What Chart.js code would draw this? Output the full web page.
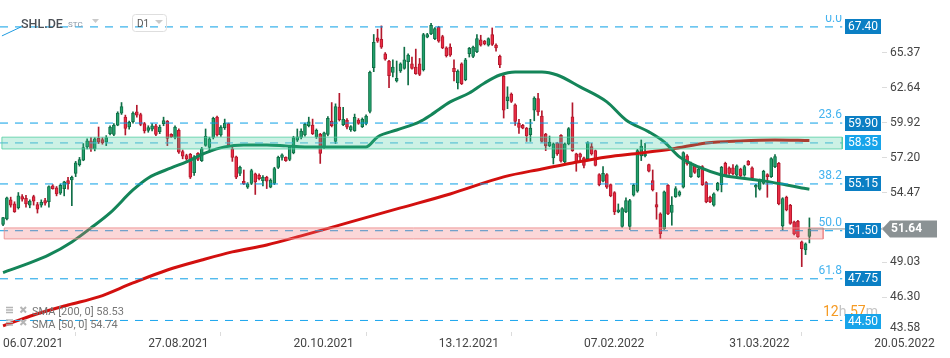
<!DOCTYPE html>
<html>
<head>
<meta charset="utf-8">
<title>SHL.DE D1</title>
<script src="https://cdn.jsdelivr.net/npm/chart.js@4.4.1/dist/chart.umd.min.js"></script>
<style>
html,body{margin:0;padding:0;background:#ffffff;overflow:hidden;}
#box{position:relative;width:950px;height:358px;}
canvas{display:block;}
</style>
</head>
<body>
<div id="box"><canvas id="chart" width="950" height="358"></canvas></div>
<script>
// ---------------- data ----------------
const opens = [
52.00,52.42,53.91,53.60,53.29,54.17,54.02,53.50,54.17,53.55,
53.50,53.86,53.76,55.00,54.84,54.43,54.79,55.41,55.46,55.98,
56.65,57.01,58.04,58.51,57.89,58.71,58.61,58.40,59.07,59.02,
59.74,60.67,60.36,59.59,60.00,60.78,60.57,59.85,59.33,59.43,
59.69,59.23,59.85,60.05,59.02,58.77,59.33,57.68,57.37,57.47,
56.03,57.53,56.96,58.15,57.99,58.77,60.36,58.97,59.54,59.85,
57.89,57.27,55.98,55.36,54.90,55.20,55.93,55.82,55.41,55.67,
54.90,55.20,56.44,57.22,57.22,57.06,57.58,58.56,58.77,58.97,
59.69,59.75,58.82,59.02,57.99,59.02,60.06,58.46,61.14,59.77,
60.13,59.36,59.31,60.13,59.62,59.88,60.81,64.22,66.55,66.44,
65.31,64.74,63.86,63.18,63.96,64.17,64.68,64.53,64.27,64.53,
64.06,66.60,66.86,66.49,67.37,66.65,65.77,65.82,64.17,63.03,
64.53,63.29,65.31,65.10,65.46,66.39,66.29,65.98,66.81,65.98,
65.10,63.55,61.64,62.16,61.33,59.87,59.72,59.51,58.99,60.91,
61.80,60.45,59.04,58.11,57.18,58.32,58.94,56.86,58.27,60.39,
57.49,57.49,57.18,57.12,58.06,57.75,55.88,55.36,55.88,55.10,
54.48,52.97,51.83,52.97,51.83,54.27,54.58,57.33,57.33,56.66,
55.41,53.54,52.81,51.67,55.05,52.92,54.16,54.27,54.89,57.34,
55.72,56.56,55.72,56.50,55.26,54.11,53.49,54.68,55.10,56.76,
56.40,56.40,55.83,56.30,55.83,56.92,56.40,54.89,54.74,55.20,
55.88,55.72,56.50,56.76,51.88,54.11,53.49,52.19,52.24,50.63,
50.00,51.05];
const highs = [
52.55,54.12,54.12,53.76,54.48,54.33,54.27,53.91,54.27,53.71,
53.91,54.02,55.00,55.10,54.95,55.15,55.36,55.67,55.77,56.91,
57.22,58.30,58.66,58.76,58.76,59.59,58.76,58.92,59.69,59.85,
60.78,61.50,60.52,60.05,60.78,61.29,60.67,59.95,59.69,59.85,
59.80,59.74,60.36,60.10,59.07,59.69,59.44,57.80,57.47,57.53,
57.37,57.60,58.00,59.44,58.80,60.36,60.45,59.70,60.21,59.90,
58.00,57.32,56.55,56.24,55.25,56.30,56.00,55.93,55.80,55.75,
55.55,56.45,57.32,57.50,57.27,58.10,58.87,59.44,59.44,59.90,
60.36,60.21,59.44,59.10,59.20,60.40,61.50,61.40,62.22,61.12,
60.25,59.70,60.60,60.25,60.30,60.55,63.95,66.81,67.22,67.48,
65.40,64.80,64.84,64.74,64.60,65.82,65.30,65.05,65.67,64.94,
66.90,66.90,67.68,67.35,67.45,66.75,65.85,66.08,64.84,64.05,
64.60,64.95,65.80,65.90,66.81,66.75,66.35,66.55,67.32,66.08,
65.20,63.65,62.73,62.25,61.40,60.19,59.80,59.56,60.19,61.95,
62.21,60.86,59.10,58.89,58.35,58.40,59.00,58.35,59.55,61.48,
57.55,57.55,57.25,58.45,58.32,57.80,55.95,56.50,55.95,55.15,
54.55,53.59,53.30,54.06,53.95,55.15,57.85,58.58,58.32,56.70,
56.24,54.48,52.90,54.60,55.10,54.16,54.94,54.61,57.66,57.45,
56.85,56.65,56.40,56.58,55.33,54.20,54.45,55.28,56.52,56.85,
56.48,56.66,56.64,56.38,56.61,56.98,56.48,55.12,55.53,56.22,
55.95,57.20,57.44,56.83,54.08,54.20,53.56,52.26,52.32,50.70,
50.55,52.50];
const lows = [
51.90,52.34,53.34,52.93,53.19,53.81,53.34,53.29,53.50,52.88,
53.34,53.50,53.34,54.74,54.22,54.33,54.22,54.74,53.45,55.72,
56.54,56.96,57.89,57.68,57.73,58.30,58.25,58.14,58.97,58.92,
59.69,60.57,58.97,59.43,59.90,60.36,59.69,59.12,59.18,59.28,
58.92,59.07,59.69,58.14,58.77,58.66,57.53,57.11,57.00,55.57,
55.82,56.96,56.90,58.09,57.63,58.66,58.87,58.85,59.40,58.10,
56.91,55.57,55.80,55.10,54.80,55.10,54.33,55.46,55.00,54.79,
54.85,55.10,56.35,57.00,56.90,56.96,57.50,58.46,58.66,58.87,
59.60,59.00,58.70,56.75,57.90,58.90,59.60,58.30,60.06,59.70,
59.45,59.25,59.25,59.80,59.55,59.75,60.70,63.91,66.19,65.72,
64.80,62.67,63.50,63.10,63.85,64.10,62.87,64.10,63.70,63.60,
63.96,66.55,66.80,66.40,66.20,65.70,65.05,65.10,63.18,62.56,
62.90,63.20,65.05,65.00,65.40,65.90,66.00,65.90,65.95,65.51,
64.22,60.29,61.02,61.50,59.72,59.10,59.45,58.47,58.47,60.08,
60.50,58.40,57.75,58.05,56.71,57.38,56.85,56.80,58.20,57.69,
56.14,56.86,56.40,57.05,57.40,56.55,55.00,55.30,54.80,54.15,
52.76,52.90,51.75,52.90,51.60,54.20,54.50,56.97,57.25,56.09,
54.60,52.40,50.89,51.60,52.75,51.93,54.10,54.19,54.83,56.62,
55.65,55.97,55.65,55.03,53.68,53.68,53.42,54.60,54.53,55.75,
55.90,55.85,55.75,55.70,55.75,56.60,55.55,54.11,54.67,55.12,
54.11,55.65,56.42,53.52,51.56,53.05,52.00,51.18,50.98,48.70,
49.64,50.55];
const closes = [
52.52,54.07,53.50,52.98,54.22,53.96,53.60,53.81,53.81,53.19,
53.71,53.66,54.95,54.79,54.38,55.05,55.31,55.15,55.67,56.80,
57.06,57.99,58.51,57.89,58.66,58.40,58.35,58.76,59.59,59.74,
60.67,61.19,59.49,59.95,60.67,60.52,59.80,59.28,59.54,59.69,
59.02,59.59,60.10,58.71,58.82,59.59,57.63,57.32,57.11,55.67,
57.27,57.06,57.89,58.87,58.66,60.26,58.97,59.59,59.90,58.15,
57.22,55.67,56.44,55.15,55.15,56.19,55.31,55.57,55.67,55.36,
55.46,56.34,57.22,57.42,56.96,58.04,58.77,58.82,59.28,59.80,
60.00,59.07,59.33,57.53,59.13,60.26,59.69,61.19,60.16,60.19,
59.57,59.62,60.34,59.88,60.19,60.44,63.86,66.19,66.29,65.82,
64.89,63.60,64.27,63.39,64.53,64.84,65.20,64.17,63.75,63.70,
66.81,66.81,67.53,67.27,66.29,65.77,65.15,65.20,63.91,63.96,
62.98,64.84,65.72,65.82,66.49,65.98,66.08,66.49,66.03,65.77,
64.43,60.90,61.95,61.59,60.03,59.56,59.51,58.89,59.51,61.85,
60.76,58.47,58.11,58.42,58.27,57.49,56.92,58.27,59.46,57.75,
56.86,57.23,56.60,58.37,57.49,56.60,55.10,55.98,54.89,54.22,
52.97,53.13,53.23,53.85,53.85,55.05,57.75,58.11,57.49,56.14,
54.68,53.33,51.28,54.53,52.81,53.50,54.79,54.53,57.60,56.71,
56.76,56.04,56.30,55.10,53.75,53.75,54.37,55.20,56.45,55.83,
55.98,55.93,56.56,55.78,56.50,56.66,55.62,55.05,55.46,56.14,
55.72,57.13,57.28,53.59,54.01,53.12,52.08,51.25,51.04,50.11,
50.47,51.64];

// moving averages (candle index, value)
const sma50Idx  = [0,7,12,18,23,28,34,38,44,48,53,58,63,69,74,79,84,88,95,98,103,109,112,117,122,126,130,134,141,145,151,158,163,169,173,177,182,188,193,199,205,209,211];
const sma50Vals = [48.23,48.99,49.61,50.63,51.72,52.89,54.68,55.62,56.40,56.87,57.57,58.04,58.19,58.19,58.12,58.04,58.04,58.04,58.04,58.82,59.36,59.99,60.53,61.55,62.25,63.03,63.65,63.89,63.89,63.65,62.72,61.55,60.14,59.21,58.43,57.26,56.48,55.85,55.62,55.39,55.07,54.84,54.74];
const sma200Idx  = [0,8,17,25,34,43,52,60,69,78,91,104,117,131,141,149,158,167,175,184,193,202,211];
const sma200Vals = [44.08,44.93,45.71,46.34,47.43,48.44,49.22,49.85,50.39,51.10,52.19,53.28,54.37,55.70,56.32,56.79,57.26,57.57,57.88,58.35,58.51,58.58,58.53];

// axis ticks
const dateTickIdx = [0,38,76,114,152,190,228];
const dateLabels  = ['06.07.2021','27.08.2021','20.10.2021','13.12.2021','07.02.2022','31.03.2022','20.05.2022'];
const priceTicks  = [43.58,46.30,49.03,51.75,54.47,57.20,59.92,62.64,65.37];

// drawing tools
const fibNames   = ['0.0','23.6','38.2','50.0','61.8'];
const fibValues  = [67.40,59.90,55.15,51.50,47.75];
const levelValues = [58.35,44.50];
const greenZone  = [57.88,58.80];
const redZone    = [50.86,51.72];
const lastPrice  = 51.64;
const smaLegend  = ['SMA [200, 0] 58.53','SMA [50, 0] 54.74'];
const trendIdx   = [-0.3,4.7];
const trendVals  = [66.70,67.40];

// ---------------- chart ----------------
const FONT = 'Roboto';
const UP_FILL = '#22a06b', UP_LINE = '#0f6e46';
const DN_FILL = '#ea2c44', DN_LINE = '#b3182c';
const FIB_BLUE = '#0a9fe6';

const candleIdx = opens.map((_, i) => i);
const up = i => closes[i] >= opens[i];
const hline = (v, x0, x1) => [{x:x0, y:v}, {x:x1, y:v}];
const rect = (lo, hi, x0, x1) => [{x:x0,y:hi},{x:x1,y:hi},{x:x1,y:lo},{x:x0,y:lo},{x:x0,y:hi}];
const flat = {type:'line', pointRadius:0, pointHoverRadius:0, fill:false, tension:0};

const datasets = [];
datasets.push(Object.assign({}, flat, {label:'last', data:hline(lastPrice, 211.3, 230.5), borderColor:'#8c9395', borderWidth:1, order:1}));
datasets.push(Object.assign({}, flat, {label:'green zone', data:rect(greenZone[0], greenZone[1], -0.3, 219.6), fill:'shape', backgroundColor:'rgba(52,200,150,0.25)', borderColor:'rgba(80,205,160,0.8)', borderWidth:1, order:2}));
datasets.push(Object.assign({}, flat, {label:'red zone', data:rect(redZone[0], redZone[1], 0.3, 214.6), fill:'shape', backgroundColor:'rgba(240,110,115,0.28)', borderColor:'rgba(236,140,140,0.85)', borderWidth:1, order:2}));
fibValues.forEach((v, k) => datasets.push(Object.assign({}, flat, {label:'fib '+fibNames[k], data:hline(v, -0.8, 219.6), borderColor:FIB_BLUE, borderWidth:1, borderDash:[8,7], order:3})));
datasets.push(Object.assign({}, flat, {label:'lvl1', data:hline(levelValues[0], -0.8, 219.6), borderColor:'#49b3e6', borderWidth:1, borderDash:[8,7], order:3}));
datasets.push(Object.assign({}, flat, {label:'lvl2', data:hline(levelValues[1], -0.8, 219.6), borderColor:'#1aa6ee', borderWidth:1, borderDash:[8,7], order:3}));
datasets.push(Object.assign({}, flat, {label:'trend', data:trendIdx.map((x, k) => ({x, y:trendVals[k]})), borderColor:'#1f9be0', borderWidth:1, order:3}));
datasets.push(Object.assign({}, flat, {label:'SMA 50', data:sma50Idx.map((x, k) => ({x, y:sma50Vals[k]})), borderColor:'#148559', borderWidth:3, cubicInterpolationMode:'monotone', order:6}));
datasets.push(Object.assign({}, flat, {label:'SMA 200', data:sma200Idx.map((x, k) => ({x, y:sma200Vals[k]})), borderColor:'#d2100f', borderWidth:3, cubicInterpolationMode:'monotone', order:7}));
datasets.push({type:'bar', label:'bodies', data:candleIdx.map(i => ({x:i, y:[opens[i], closes[i]]})),
  backgroundColor:candleIdx.map(i => up(i) ? UP_FILL : DN_FILL), borderColor:candleIdx.map(i => up(i) ? UP_LINE : DN_LINE),
  borderWidth:1, borderSkipped:false, barThickness:3, grouped:false, order:8});
datasets.push({type:'bar', label:'wicks', data:candleIdx.map(i => ({x:i, y:[lows[i], highs[i]]})),
  backgroundColor:candleIdx.map(i => up(i) ? UP_LINE : DN_LINE), borderWidth:0, barThickness:1, grouped:false, order:9});

function tri(ctx, x, y, w, h, col){ ctx.fillStyle=col; ctx.beginPath(); ctx.moveTo(x,y); ctx.lineTo(x+w,y); ctx.lineTo(x+w/2,y+h); ctx.closePath(); ctx.fill(); }

const overlay = {
  id:'overlay',
  afterDraw(chart){
    const ctx = chart.ctx, y = chart.scales.y;
    ctx.save();
    // fib level names
    ctx.save(); ctx.beginPath(); ctx.rect(0, 15, 950, 400); ctx.clip();
    ctx.font = '12px '+FONT; ctx.fillStyle = '#44b3ef'; ctx.textAlign = 'right'; ctx.textBaseline = 'alphabetic';
    fibNames.forEach((n, k) => ctx.fillText(n, 842, Math.round(y.getPixelForValue(fibValues[k])) - 5));
    ctx.restore();
    // countdown
    ctx.font = '14px '+FONT; ctx.textAlign = 'left'; ctx.textBaseline = 'alphabetic';
    let cx = 823; const cy = 316;
    [['12','#f59a23'],['h','#c4c4c4'],[' 57','#f59a23'],['m','#c4c4c4']].forEach(p => { ctx.fillStyle = p[1]; ctx.fillText(p[0], cx, cy); cx += ctx.measureText(p[0]).width; });
    // value boxes on the right
    const boxes = fibValues.map(v => [v, '#0b7fc4']).concat(levelValues.map(v => [v, '#17a4ea']));
    ctx.font = '12px '+FONT; ctx.textAlign = 'center'; ctx.textBaseline = 'middle';
    boxes.forEach(b => {
      const py = y.getPixelForValue(b[0]);
      ctx.fillStyle = b[1]; ctx.fillRect(845, Math.round(py - 7.5) + (b[0] === levelValues[1] ? 1 : 0), 36, 15);
      ctx.fillStyle = '#ffffff'; ctx.fillText(b[0].toFixed(2), 863, py + 0.5 + (b[0] === levelValues[1] ? 1 : 0));
    });
    // last price tag
    const pp = y.getPixelForValue(lastPrice);
    ctx.fillStyle = '#8b9294'; ctx.beginPath();
    ctx.moveTo(882, pp); ctx.lineTo(890, pp - 8.5); ctx.lineTo(937, pp - 8.5); ctx.lineTo(937, pp + 8.5); ctx.lineTo(890, pp + 8.5); ctx.closePath(); ctx.fill();
    ctx.fillStyle = '#ffffff'; ctx.font = 'bold 12px '+FONT; ctx.textAlign = 'left'; ctx.fillText(lastPrice.toFixed(2), 891, pp + 0.5);
    // bottom axis value that sits under the plot edge
    ctx.fillStyle = '#444444'; ctx.font = '12px '+FONT; ctx.textAlign = 'left'; ctx.textBaseline = 'middle';
    ctx.fillText(priceTicks[0].toFixed(2), 890, 328);
    // SMA legend
    ctx.font = '11px '+FONT; ctx.textBaseline = 'alphabetic';
    smaLegend.forEach((t, k) => {
      const by = 315 + k * 12.5;
      ctx.strokeStyle = '#b5b5b5'; ctx.lineWidth = 1.5;
      ctx.beginPath();
      for (let r = 0; r < 3; r++) { ctx.moveTo(6, by - 7.5 + r * 2.5); ctx.lineTo(13, by - 7.5 + r * 2.5); }
      ctx.stroke();
      ctx.lineWidth = 2; ctx.beginPath();
      ctx.moveTo(20.5, by - 8); ctx.lineTo(26, by - 2.5); ctx.moveTo(26, by - 8); ctx.lineTo(20.5, by - 2.5); ctx.stroke();
      ctx.fillStyle = '#777777'; ctx.fillText(t, 32, by);
    });
    // header
    ctx.fillStyle = '#4b4f55'; ctx.font = '500 12.5px '+FONT; ctx.fillText('SHL.DE', 21, 27.5);
    ctx.fillStyle = '#8796a6'; ctx.font = '8px '+FONT; ctx.fillText('STC', 68, 27);
    tri(ctx, 92, 19, 7, 4, '#c9c9c9');
    ctx.strokeStyle = '#dedede'; ctx.lineWidth = 1;
    ctx.beginPath(); ctx.roundRect(132.5, 14.5, 34, 17, 3); ctx.stroke();
    ctx.fillStyle = '#555555'; ctx.font = '10px '+FONT; ctx.fillText('D1', 137, 27);
    tri(ctx, 155, 20, 8, 4, '#c9c9c9');
    ctx.restore();
  }
};

new Chart(document.getElementById('chart'), {
  type:'bar',
  data:{datasets},
  options:{
    responsive:false, animation:false, devicePixelRatio:1,
    layout:{padding:0},
    events:[],
    plugins:{legend:{display:false}, tooltip:{enabled:false}},
    scales:{
      x:{type:'linear', min:-0.8, max:230, offset:false,
        grid:{drawOnChartArea:false, drawTicks:true, tickLength:4, color:'#dcdcdc'},
        border:{display:false},
        ticks:{autoSkip:false, maxRotation:0, minRotation:0, align:'start', padding:1, color:'#444444', font:{family:FONT, size:12},
          callback:v => { const k = dateTickIdx.indexOf(v); return k >= 0 ? dateLabels[k] : ''; }},
        afterBuildTicks:s => { s.ticks = dateTickIdx.map(v => ({value:v})); },
        afterFit:s => { s.height = 26; s.paddingLeft = 0; s.paddingRight = 0; }
      },
      y:{type:'linear', position:'right', min:43.60, max:69.50,
        grid:{drawOnChartArea:false, drawTicks:true, tickLength:5, color:'#dcdcdc'},
        border:{display:false},
        ticks:{padding:3, color:'#444444', font:{family:FONT, size:12}, callback:v => Number(v).toFixed(2)},
        afterBuildTicks:s => { s.ticks = priceTicks.filter(v => v >= 43.60).map(v => ({value:v})); },
        afterFit:s => { s.width = 68; s.paddingTop = 0; s.paddingBottom = 0; }
      }
    }
  },
  plugins:[overlay]
});
</script>
</body>
</html>
